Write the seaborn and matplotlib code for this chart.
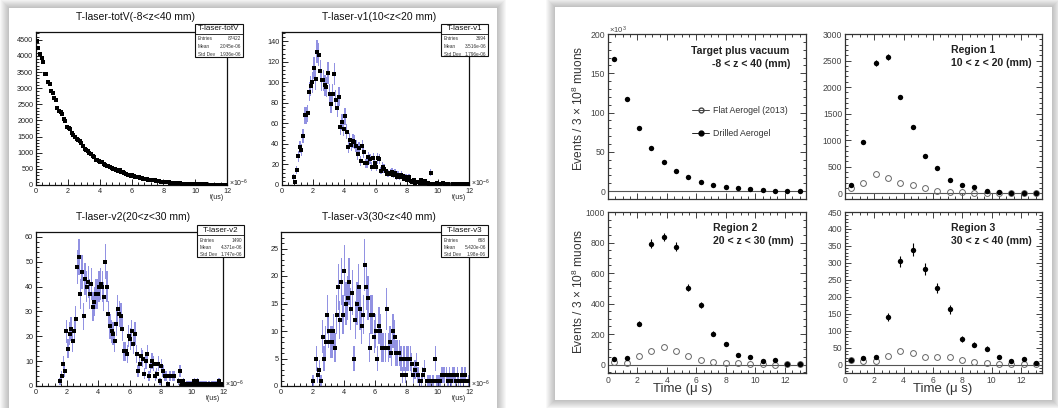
import numpy as np
import pandas as pd
import matplotlib
matplotlib.use("Agg")
import matplotlib.pyplot as plt
import seaborn as sns
from matplotlib.patches import Rectangle
from matplotlib.lines import Line2D
from matplotlib.ticker import MultipleLocator, AutoMinorLocator

# ---------------- data ----------------
# Left panel: ROOT histograms, 120 bins of 0.1 us from 0 to 12 us
bin_width = 0.1
totV_counts = [4450, 4230, 4050, 3920, 3820, 3450, 3430, 3200, 3130, 2900,
               2860, 2700, 2620, 2380, 2300, 2260, 2190, 2050, 1980, 1800,
               1760, 1750, 1620, 1540, 1490, 1410, 1380, 1360, 1300, 1200,
               1110, 1090, 1060, 1000, 960, 900, 860, 760, 780, 740,
               720, 700, 660, 630, 600, 580, 550, 520, 500, 500,
               470, 440, 460, 410, 390, 380, 340, 320, 310, 290,
               300, 280, 260, 250, 240, 220, 210, 200, 190, 180,
               170, 165, 150, 140, 140, 130, 120, 115, 100, 100,
               95, 90, 80, 85, 70, 70, 65, 60, 55, 55,
               50, 45, 45, 40, 38, 35, 35, 30, 30, 28,
               25, 25, 22, 20, 20, 18, 18, 15, 15, 14,
               12, 12, 12, 10, 10, 9, 8, 8, 7, 7]
v1_counts = [0, 0, 0, 0, 0, 0, 0, 8, 3, 15,
             28, 37, 34, 48, 68, 68, 70, 91, 96, 100,
             114, 103, 130, 127, 111, 102, 102, 97, 95, 109,
             89, 79, 89, 108, 83, 75, 86, 56, 61, 55,
             67, 52, 37, 44, 39, 43, 42, 38, 30, 36,
             23, 38, 32, 21, 21, 27, 25, 18, 26, 21,
             18, 26, 25, 14, 18, 16, 14, 11, 11, 12,
             13, 10, 12, 8, 10, 8, 10, 9, 6, 8,
             5, 8, 4, 3, 5, 2, 3, 3, 2, 5,
             2, 4, 2, 2, 1, 12, 1, 1, 1, 2,
             1, 1, 0, 2, 1, 0, 1, 0, 0, 1,
             0, 1, 1, 0, 1, 1, 0, 1, 0, 1]
v2_counts = [0, 0, 0, 0, 0, 0, 0, 0, 0, 0,
             0, 0, 0, 0, 0, 2, 4, 9, 6, 22,
             15, 21, 23, 18, 22, 27, 48, 52, 37, 46,
             28, 43, 40, 42, 37, 41, 32, 34, 37, 37,
             40, 41, 40, 36, 50, 40, 29, 24, 22, 21,
             18, 25, 31, 29, 28, 23, 14, 14, 13, 20,
             19, 22, 17, 21, 13, 6, 9, 12, 11, 5,
             10, 13, 4, 8, 10, 9, 4, 5, 9, 2,
             8, 6, 4, 4, 1, 4, 4, 4, 4, 0,
             0, 2, 6, 1, 2, 1, 1, 1, 1, 1,
             1, 2, 1, 2, 1, 1, 1, 1, 1, 1,
             1, 1, 1, 1, 1, 1, 1, 2, 1, 0]
v3_counts = [0, 0, 0, 0, 0, 0, 0, 0, 0, 0,
             0, 0, 0, 0, 0, 0, 0, 0, 0, 0,
             1, 0, 5, 2, 3, 1, 9, 5, 8, 13,
             10, 8, 8, 10, 7, 13, 18, 12, 19, 13,
             21, 15, 16, 19, 14, 17, 5, 12, 15, 18,
             14, 11, 13, 22, 18, 16, 7, 13, 13, 9,
             10, 5, 11, 10, 7, 7, 7, 14, 7, 8,
             6, 10, 9, 6, 6, 6, 5, 2, 5, 2,
             5, 5, 5, 4, 2, 3, 4, 2, 1, 1,
             2, 3, 0, 1, 1, 1, 1, 1, 5, 1,
             1, 1, 2, 2, 2, 2, 1, 2, 1, 2,
             2, 1, 2, 1, 1, 2, 1, 2, 0, 1]
hist_titles = ["T-laser-totV(-8<z<40 mm)", "T-laser-v1(10<z<20 mm)",
               "T-laser-v2(20<z<30 mm)", "T-laser-v3(30<z<40 mm)"]
hist_names = ["T-laser-totV", "T-laser-v1", "T-laser-v2", "T-laser-v3"]
hist_entries = ["87422", "3694", "1490", "668"]
hist_means = ["2.045e-06", "3.516e-06", "4.371e-06", "5.420e-06"]
hist_stds = ["1.936e-06", "1.796e-06", "1.747e-06", "1.98e-06"]

# Right panel: 16 time bins of 0.84 us
time_bin = 0.84
target_drilled = [168, 117.5, 80.3, 55.4, 37.6, 25.8, 17.8, 11.8, 8.0, 5.5, 3.4, 2.1, 1.3, 0.6, 0.3, 0.2]  # x10^3
r1_drilled = [157, 958, 2455, 2568, 1816, 1240, 701, 470, 250, 150, 113, 50, 31, 13, 5, 3]
r1_flat = [106, 200, 370, 294, 200, 157, 94, 50, 31, 19, 13, 10, 8, 5, 3, 2]
r2_drilled = [37, 44, 269, 793, 836, 773, 504, 389, 203, 138, 63, 50, 26, 31, 4, 2]
r2_flat = [20, 9, 59, 92, 114, 92, 55, 33, 17, 13, 9, 7, 3, -3, 2, 1]
r3_drilled = [14, 18, 22, 141, 304, 339, 282, 225, 163, 75, 58, 47, 22, 10, 15, 5]
r3_flat = [13, 10, 9, 25, 40, 34, 21, 21, 21, 12, 7, 4, 3, 3, 2, 1]
legend_labels = ["Flat Aerogel (2013)", "Drilled Aerogel"]
region_texts = [("Target plus vacuum", "-8 < z < 40 (mm)"), ("Region 1", "10 < z < 20 (mm)"),
                ("Region 2", "20 < z < 30 (mm)"), ("Region 3", "30 < z < 40 (mm)")]

# ---------------- figure ----------------
sns.set_theme(style="ticks")
plt.rcParams['font.family'] = ['Liberation Sans', 'DejaVu Sans']
plt.rcParams['mathtext.fontset'] = 'custom'
plt.rcParams['mathtext.rm'] = 'Liberation Sans'
plt.rcParams['mathtext.it'] = 'Liberation Sans:italic'

W, H = 1058, 408
fig = plt.figure(figsize=(W / 100, H / 100), dpi=100)
fig.patch.set_facecolor('white')


def fx(x):
    return x / W


def fy(y):
    return 1 - y / H


def rect(x0, y0, x1, y1):
    return [x0 / W, 1 - y1 / H, (x1 - x0) / W, (y1 - y0) / H]


def card(x0, y0, x1, y1):
    for i in range(9, 0, -1):
        fig.patches.append(Rectangle((fx(x0 - i), fy(y1 + i)), (x1 - x0 + 2 * i) / W, (y1 - y0 + 2 * i) / H,
                                     transform=fig.transFigure, facecolor='black', alpha=0.028,
                                     edgecolor='none', zorder=-10))
    fig.patches.append(Rectangle((fx(x0), fy(y1)), (x1 - x0) / W, (y1 - y0) / H,
                                 transform=fig.transFigure, facecolor='white', edgecolor='none', zorder=-9))


card(9, 8, 497, 420)
card(555, 7, 1052, 400)

# ---------- left panel (ROOT style) ----------
left_rects = [(36, 32, 227, 185), (282, 32, 469, 185), (36, 232, 223, 386), (281, 232, 469, 386)]
left_ylims = [4740, 149, 62, 28]
left_ymaj = [500, 20, 10, 5]
left_ymin = [100, 4, 2, 1]
left_counts = [totV_counts, v1_counts, v2_counts, v3_counts]
stat_boxes = [(195, 24, 243, 57), (441, 24, 488, 56), (197, 225, 244, 257), (441, 225, 488, 257)]

centers = np.arange(len(totV_counts)) * bin_width + bin_width / 2

for k in range(4):
    x0, y0, x1, y1 = left_rects[k]
    ax = fig.add_axes(rect(x0, y0, x1, y1))
    ax.set_facecolor('white')
    counts = np.array(left_counts[k], dtype=float)
    mask = counts > 0
    df = pd.DataFrame({"t": centers[mask], "n": counts[mask]})
    if k > 0:
        err = np.sqrt(df["n"].values)
        ax.bar(df["t"], 2 * err, bottom=df["n"] - err, width=0.085, color='#4a4ad0', alpha=0.6,
               linewidth=0, zorder=2)
        ax.errorbar(df["t"], df["n"], xerr=bin_width / 2, fmt='none', ecolor='black', elinewidth=0.8, zorder=3)
    sns.scatterplot(data=df, x="t", y="n", ax=ax, color='black', marker='s', s=5 if k > 0 else 5,
                    linewidth=0, zorder=4)
    ax.set_xlim(0, 12)
    ax.set_ylim(0, left_ylims[k])
    ax.xaxis.set_major_locator(MultipleLocator(2))
    ax.xaxis.set_minor_locator(MultipleLocator(0.4))
    ax.yaxis.set_major_locator(MultipleLocator(left_ymaj[k]))
    ax.yaxis.set_minor_locator(MultipleLocator(left_ymin[k]))
    ax.tick_params(which='both', direction='in', top=False, right=False, labelsize=5.2,
                   labelcolor='#222', pad=2, width=0.6, color='black')
    ax.tick_params(which='major', length=4)
    ax.tick_params(which='minor', length=2)
    ax.set_xlabel("")
    ax.set_ylabel("")
    for s in ax.spines.values():
        s.set_linewidth(0.9)
        s.set_color('#111')
    # title
    fig.text(fx((x0 + x1) / 2 + 4), fy(y0 - 15), hist_titles[k], ha='center', va='center', fontsize=7.5,
             color='#111')
    fig.text(fx(x1 + 2), fy(y1 - 2), r'$\times10^{-6}$', ha='left', va='center', fontsize=5, color='#222')
    fig.text(fx(x1 - 10), fy(y1 + 12), 't(us)', ha='center', va='center', fontsize=5, color='#222')
    # stat box
    bx0, by0, bx1, by1 = stat_boxes[k]
    fig.add_artist(Rectangle((fx(bx0), fy(by1)), (bx1 - bx0) / W, (by1 - by0) / H, transform=fig.transFigure,
                             facecolor='white', edgecolor='#111', linewidth=0.8, zorder=10))
    fig.add_artist(Line2D([fx(bx0), fx(bx1)], [fy(by0 + 10), fy(by0 + 10)], transform=fig.transFigure,
                          color='#111', linewidth=0.6, zorder=11))
    fig.text(fx((bx0 + bx1) / 2), fy(by0 + 5), hist_names[k], ha='center', va='center', fontsize=5.8,
             color='#111', zorder=12)
    rows = [("Entries", hist_entries[k]), ("Mean", hist_means[k]), ("Std Dev", hist_stds[k])]
    for r, (lab, val) in enumerate(rows):
        yy = by0 + 15 + r * 7.5
        fig.text(fx(bx0 + 2.5), fy(yy), lab, ha='left', va='center', fontsize=3.4, color='#333', zorder=12)
        fig.text(fx(bx1 - 2), fy(yy), val, ha='right', va='center', fontsize=3.4, color='#333', zorder=12)

# ---------- right panel ----------
right_rects = [(608, 34, 806, 199), (845, 34, 1042, 199), (608, 212, 806, 373), (845, 212, 1042, 373)]
right_ylims = [(-10, 200), (-106, 3000), (-55, 1000), (-25, 450)]
right_ymaj = [50, 500, 200, 50]
right_ymin = [5, 5, 4, 5]
drilled_sets = [target_drilled, r1_drilled, r2_drilled, r3_drilled]
flat_sets = [None, r1_flat, r2_flat, r3_flat]
err_scale = [1000.0, 1.0, 1.0, 1.0]
tcent = np.arange(len(r1_drilled)) * time_bin + time_bin / 2

for k in range(4):
    x0, y0, x1, y1 = right_rects[k]
    ax = fig.add_axes(rect(x0, y0, x1, y1))
    ax.set_facecolor('white')
    ax.axhline(0, color='#555', linewidth=0.8, zorder=1)
    dd = np.array(drilled_sets[k], dtype=float)
    dfd = pd.DataFrame({"t": tcent, "v": dd})
    if flat_sets[k] is not None:
        ff = np.array(flat_sets[k], dtype=float)
        ax.plot(tcent, ff, linestyle='none', marker='o', markersize=4.2, markerfacecolor='none',
                markeredgecolor='#666', markeredgewidth=0.7, zorder=3)
    err = np.sqrt(np.clip(dd, 0, None) * err_scale[k]) / err_scale[k]
    ax.errorbar(tcent, dd, yerr=err, fmt='none', ecolor='black', elinewidth=0.8, zorder=4)
    sns.scatterplot(data=dfd, x="t", y="v", ax=ax, color='black', marker='o', s=15, linewidth=0, zorder=5)
    ax.set_xlim(0, 16 * time_bin)
    ax.set_ylim(*right_ylims[k])
    ax.xaxis.set_major_locator(MultipleLocator(2))
    ax.xaxis.set_minor_locator(AutoMinorLocator(4))
    ax.yaxis.set_major_locator(MultipleLocator(right_ymaj[k]))
    ax.yaxis.set_minor_locator(AutoMinorLocator(right_ymin[k]))
    ax.tick_params(which='both', direction='in', top=True, right=True, labelsize=6.2,
                   labelcolor='#444', pad=2, width=0.6, color='#222')
    ax.tick_params(which='major', length=4.5)
    ax.tick_params(which='minor', length=2.2)
    if k < 2:
        ax.tick_params(labelbottom=False)
    ax.set_xlabel("")
    ax.set_ylabel("")
    for s in ax.spines.values():
        s.set_linewidth(0.9)
        s.set_color('#333')

    l1, l2 = region_texts[k]
    if k == 0:
        fig.text(fx(740), fy(51), l1, ha='center', va='center', fontsize=7.6, fontweight='bold', color='#222')
        fig.text(fx(751), fy(64), l2, ha='center', va='center', fontsize=7.6, fontweight='bold', color='#222')
        handles = [Line2D([], [], color='#444', lw=0.7, marker='o', markersize=3.5, markerfacecolor='none',
                          markeredgecolor='#444'),
                   Line2D([], [], color='#222', lw=0.7, marker='o', markersize=3.5, markerfacecolor='black',
                          markeredgecolor='black')]
        fig.legend(handles, legend_labels, loc='center left', bbox_to_anchor=(fx(688), fy(122)),
                   bbox_transform=fig.transFigure, frameon=False, fontsize=6.3, handlelength=1.9,
                   handletextpad=0.5, labelspacing=1.6, borderpad=0, labelcolor='#333')
        fig.text(fx(609), fy(30), r'$\times10^{3}$', ha='left', va='center', fontsize=5.5, color='#444')
    else:
        fig.text(fx(x0 + (951 - 845) if k != 2 else 713), fy(y0 + 16), l1, ha='left', va='center', fontsize=7.6,
                 fontweight='bold', color='#222')
        fig.text(fx(x0 + (951 - 845) if k != 2 else 713), fy(y0 + 29), l2, ha='left', va='center', fontsize=7.6,
                 fontweight='bold', color='#222')

for yc in (108, 291):
    fig.text(fx(578), fy(yc), r'Events / 3 $\times$ 10$^{8}$ muons', rotation=90, ha='center', va='center',
             fontsize=8.6, color='#333')
for xc in (683, 943):
    fig.text(fx(xc), fy(389), 'Time (μ s)', ha='center', va='center', fontsize=9.5, color='#333')

fig.savefig("out.png", dpi=100, facecolor=fig.get_facecolor())
